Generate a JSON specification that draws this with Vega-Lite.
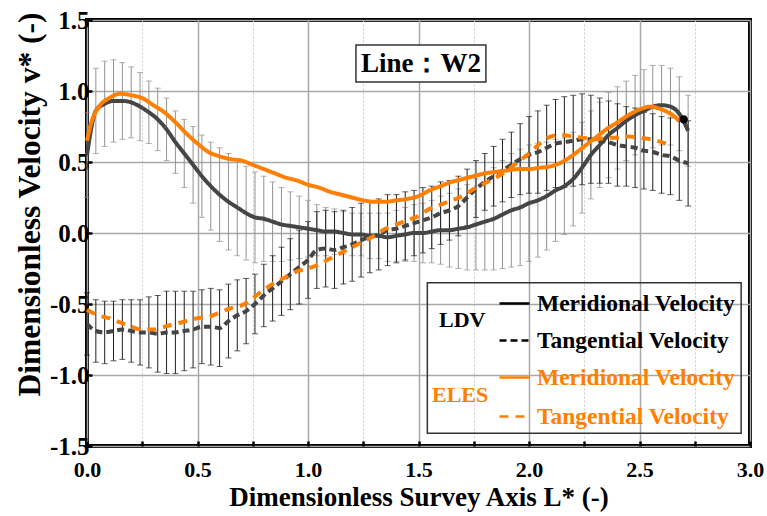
{
"$schema":"https://vega.github.io/schema/vega-lite/v6.json",
"width":663,"height":426,
"autosize":{"type":"none"},
"padding":{"left":87,"top":20,"right":17,"bottom":70},
"background":"white",
"config":{"view":{"stroke":"black","strokeWidth":4},"font":"Liberation Serif"},
"datasets":{
"ldv":[
{"x":0.00,"comp":"Meridional Velocity","y":0.55,"e":0.30},{"x":0.04,"comp":"Meridional Velocity","y":0.86,"e":0.30},{"x":0.08,"comp":"Meridional Velocity","y":0.91,"e":0.30},{"x":0.12,"comp":"Meridional Velocity","y":0.93,"e":0.29},{"x":0.16,"comp":"Meridional Velocity","y":0.93,"e":0.27},{"x":0.20,"comp":"Meridional Velocity","y":0.92,"e":0.25},{"x":0.24,"comp":"Meridional Velocity","y":0.89,"e":0.24},{"x":0.28,"comp":"Meridional Velocity","y":0.85,"e":0.22},{"x":0.32,"comp":"Meridional Velocity","y":0.80,"e":0.22},{"x":0.36,"comp":"Meridional Velocity","y":0.73,"e":0.22},{"x":0.40,"comp":"Meridional Velocity","y":0.64,"e":0.22},{"x":0.44,"comp":"Meridional Velocity","y":0.56,"e":0.24},{"x":0.48,"comp":"Meridional Velocity","y":0.48,"e":0.27},{"x":0.52,"comp":"Meridional Velocity","y":0.40,"e":0.29},{"x":0.56,"comp":"Meridional Velocity","y":0.33,"e":0.31},{"x":0.60,"comp":"Meridional Velocity","y":0.27,"e":0.33},{"x":0.64,"comp":"Meridional Velocity","y":0.22,"e":0.34},{"x":0.68,"comp":"Meridional Velocity","y":0.18,"e":0.34},{"x":0.72,"comp":"Meridional Velocity","y":0.14,"e":0.33},{"x":0.76,"comp":"Meridional Velocity","y":0.11,"e":0.32},{"x":0.80,"comp":"Meridional Velocity","y":0.10,"e":0.30},{"x":0.84,"comp":"Meridional Velocity","y":0.08,"e":0.28},{"x":0.88,"comp":"Meridional Velocity","y":0.06,"e":0.26},{"x":0.92,"comp":"Meridional Velocity","y":0.05,"e":0.24},{"x":0.96,"comp":"Meridional Velocity","y":0.04,"e":0.22},{"x":1.00,"comp":"Meridional Velocity","y":0.03,"e":0.20},{"x":1.04,"comp":"Meridional Velocity","y":0.02,"e":0.18},{"x":1.08,"comp":"Meridional Velocity","y":0.01,"e":0.17},{"x":1.12,"comp":"Meridional Velocity","y":0.01,"e":0.16},{"x":1.16,"comp":"Meridional Velocity","y":0.00,"e":0.15},{"x":1.20,"comp":"Meridional Velocity","y":-0.01,"e":0.15},{"x":1.24,"comp":"Meridional Velocity","y":-0.01,"e":0.15},{"x":1.28,"comp":"Meridional Velocity","y":-0.02,"e":0.16},{"x":1.32,"comp":"Meridional Velocity","y":-0.02,"e":0.16},{"x":1.36,"comp":"Meridional Velocity","y":-0.03,"e":0.17},{"x":1.40,"comp":"Meridional Velocity","y":-0.02,"e":0.18},{"x":1.44,"comp":"Meridional Velocity","y":-0.01,"e":0.19},{"x":1.48,"comp":"Meridional Velocity","y":0.00,"e":0.20},{"x":1.52,"comp":"Meridional Velocity","y":0.00,"e":0.21},{"x":1.56,"comp":"Meridional Velocity","y":0.01,"e":0.22},{"x":1.60,"comp":"Meridional Velocity","y":0.02,"e":0.24},{"x":1.64,"comp":"Meridional Velocity","y":0.02,"e":0.26},{"x":1.68,"comp":"Meridional Velocity","y":0.03,"e":0.28},{"x":1.72,"comp":"Meridional Velocity","y":0.04,"e":0.30},{"x":1.76,"comp":"Meridional Velocity","y":0.06,"e":0.32},{"x":1.80,"comp":"Meridional Velocity","y":0.08,"e":0.34},{"x":1.84,"comp":"Meridional Velocity","y":0.10,"e":0.36},{"x":1.88,"comp":"Meridional Velocity","y":0.13,"e":0.38},{"x":1.92,"comp":"Meridional Velocity","y":0.16,"e":0.40},{"x":1.96,"comp":"Meridional Velocity","y":0.18,"e":0.41},{"x":2.00,"comp":"Meridional Velocity","y":0.21,"e":0.41},{"x":2.04,"comp":"Meridional Velocity","y":0.23,"e":0.40},{"x":2.08,"comp":"Meridional Velocity","y":0.26,"e":0.38},{"x":2.12,"comp":"Meridional Velocity","y":0.30,"e":0.36},{"x":2.16,"comp":"Meridional Velocity","y":0.33,"e":0.34},{"x":2.20,"comp":"Meridional Velocity","y":0.38,"e":0.33},{"x":2.24,"comp":"Meridional Velocity","y":0.46,"e":0.32},{"x":2.28,"comp":"Meridional Velocity","y":0.55,"e":0.31},{"x":2.32,"comp":"Meridional Velocity","y":0.62,"e":0.30},{"x":2.36,"comp":"Meridional Velocity","y":0.69,"e":0.30},{"x":2.40,"comp":"Meridional Velocity","y":0.74,"e":0.29},{"x":2.44,"comp":"Meridional Velocity","y":0.79,"e":0.28},{"x":2.48,"comp":"Meridional Velocity","y":0.83,"e":0.28},{"x":2.52,"comp":"Meridional Velocity","y":0.86,"e":0.29},{"x":2.56,"comp":"Meridional Velocity","y":0.89,"e":0.29},{"x":2.60,"comp":"Meridional Velocity","y":0.90,"e":0.28},{"x":2.64,"comp":"Meridional Velocity","y":0.89,"e":0.27},{"x":2.68,"comp":"Meridional Velocity","y":0.84,"e":0.26},{"x":2.72,"comp":"Meridional Velocity","y":0.72,"e":0.25},
{"x":0.00,"comp":"Tangential Velocity","y":-0.64,"e":0.22},{"x":0.04,"comp":"Tangential Velocity","y":-0.69,"e":0.22},{"x":0.08,"comp":"Tangential Velocity","y":-0.70,"e":0.22},{"x":0.12,"comp":"Tangential Velocity","y":-0.69,"e":0.21},{"x":0.16,"comp":"Tangential Velocity","y":-0.68,"e":0.21},{"x":0.20,"comp":"Tangential Velocity","y":-0.69,"e":0.22},{"x":0.24,"comp":"Tangential Velocity","y":-0.70,"e":0.23},{"x":0.28,"comp":"Tangential Velocity","y":-0.70,"e":0.25},{"x":0.32,"comp":"Tangential Velocity","y":-0.71,"e":0.27},{"x":0.36,"comp":"Tangential Velocity","y":-0.70,"e":0.29},{"x":0.40,"comp":"Tangential Velocity","y":-0.70,"e":0.29},{"x":0.44,"comp":"Tangential Velocity","y":-0.69,"e":0.28},{"x":0.48,"comp":"Tangential Velocity","y":-0.68,"e":0.27},{"x":0.52,"comp":"Tangential Velocity","y":-0.66,"e":0.26},{"x":0.56,"comp":"Tangential Velocity","y":-0.66,"e":0.27},{"x":0.60,"comp":"Tangential Velocity","y":-0.67,"e":0.27},{"x":0.64,"comp":"Tangential Velocity","y":-0.62,"e":0.26},{"x":0.68,"comp":"Tangential Velocity","y":-0.58,"e":0.25},{"x":0.72,"comp":"Tangential Velocity","y":-0.55,"e":0.23},{"x":0.76,"comp":"Tangential Velocity","y":-0.50,"e":0.21},{"x":0.80,"comp":"Tangential Velocity","y":-0.44,"e":0.22},{"x":0.84,"comp":"Tangential Velocity","y":-0.39,"e":0.23},{"x":0.88,"comp":"Tangential Velocity","y":-0.34,"e":0.24},{"x":0.92,"comp":"Tangential Velocity","y":-0.29,"e":0.25},{"x":0.96,"comp":"Tangential Velocity","y":-0.24,"e":0.26},{"x":1.00,"comp":"Tangential Velocity","y":-0.19,"e":0.27},{"x":1.04,"comp":"Tangential Velocity","y":-0.12,"e":0.27},{"x":1.08,"comp":"Tangential Velocity","y":-0.11,"e":0.27},{"x":1.12,"comp":"Tangential Velocity","y":-0.12,"e":0.27},{"x":1.16,"comp":"Tangential Velocity","y":-0.10,"e":0.26},{"x":1.20,"comp":"Tangential Velocity","y":-0.08,"e":0.26},{"x":1.24,"comp":"Tangential Velocity","y":-0.05,"e":0.26},{"x":1.28,"comp":"Tangential Velocity","y":-0.03,"e":0.25},{"x":1.32,"comp":"Tangential Velocity","y":-0.01,"e":0.25},{"x":1.36,"comp":"Tangential Velocity","y":0.02,"e":0.25},{"x":1.40,"comp":"Tangential Velocity","y":0.03,"e":0.24},{"x":1.44,"comp":"Tangential Velocity","y":0.05,"e":0.24},{"x":1.48,"comp":"Tangential Velocity","y":0.07,"e":0.23},{"x":1.52,"comp":"Tangential Velocity","y":0.09,"e":0.23},{"x":1.56,"comp":"Tangential Velocity","y":0.11,"e":0.22},{"x":1.60,"comp":"Tangential Velocity","y":0.14,"e":0.22},{"x":1.64,"comp":"Tangential Velocity","y":0.16,"e":0.21},{"x":1.68,"comp":"Tangential Velocity","y":0.19,"e":0.21},{"x":1.72,"comp":"Tangential Velocity","y":0.25,"e":0.20},{"x":1.76,"comp":"Tangential Velocity","y":0.31,"e":0.20},{"x":1.80,"comp":"Tangential Velocity","y":0.36,"e":0.20},{"x":1.84,"comp":"Tangential Velocity","y":0.40,"e":0.21},{"x":1.88,"comp":"Tangential Velocity","y":0.44,"e":0.22},{"x":1.92,"comp":"Tangential Velocity","y":0.48,"e":0.23},{"x":1.96,"comp":"Tangential Velocity","y":0.52,"e":0.25},{"x":2.00,"comp":"Tangential Velocity","y":0.55,"e":0.27},{"x":2.04,"comp":"Tangential Velocity","y":0.57,"e":0.29},{"x":2.08,"comp":"Tangential Velocity","y":0.60,"e":0.30},{"x":2.12,"comp":"Tangential Velocity","y":0.63,"e":0.31},{"x":2.16,"comp":"Tangential Velocity","y":0.64,"e":0.32},{"x":2.20,"comp":"Tangential Velocity","y":0.65,"e":0.32},{"x":2.24,"comp":"Tangential Velocity","y":0.66,"e":0.32},{"x":2.28,"comp":"Tangential Velocity","y":0.66,"e":0.31},{"x":2.32,"comp":"Tangential Velocity","y":0.65,"e":0.30},{"x":2.36,"comp":"Tangential Velocity","y":0.64,"e":0.29},{"x":2.40,"comp":"Tangential Velocity","y":0.62,"e":0.29},{"x":2.44,"comp":"Tangential Velocity","y":0.61,"e":0.28},{"x":2.48,"comp":"Tangential Velocity","y":0.60,"e":0.28},{"x":2.52,"comp":"Tangential Velocity","y":0.58,"e":0.27},{"x":2.56,"comp":"Tangential Velocity","y":0.57,"e":0.27},{"x":2.60,"comp":"Tangential Velocity","y":0.55,"e":0.27},{"x":2.64,"comp":"Tangential Velocity","y":0.54,"e":0.27},{"x":2.68,"comp":"Tangential Velocity","y":0.51,"e":0.28},{"x":2.72,"comp":"Tangential Velocity","y":0.49,"e":0.30}
],
"eles":[
{"x":0.00,"comp":"Meridional Velocity","y":0.65},{"x":0.02,"comp":"Meridional Velocity","y":0.78},{"x":0.05,"comp":"Meridional Velocity","y":0.88},{"x":0.10,"comp":"Meridional Velocity","y":0.95},{"x":0.15,"comp":"Meridional Velocity","y":0.98},{"x":0.20,"comp":"Meridional Velocity","y":0.97},{"x":0.25,"comp":"Meridional Velocity","y":0.95},{"x":0.30,"comp":"Meridional Velocity","y":0.90},{"x":0.35,"comp":"Meridional Velocity","y":0.85},{"x":0.40,"comp":"Meridional Velocity","y":0.78},{"x":0.45,"comp":"Meridional Velocity","y":0.70},{"x":0.50,"comp":"Meridional Velocity","y":0.63},{"x":0.55,"comp":"Meridional Velocity","y":0.57},{"x":0.60,"comp":"Meridional Velocity","y":0.54},{"x":0.65,"comp":"Meridional Velocity","y":0.52},{"x":0.70,"comp":"Meridional Velocity","y":0.51},{"x":0.75,"comp":"Meridional Velocity","y":0.48},{"x":0.80,"comp":"Meridional Velocity","y":0.45},{"x":0.85,"comp":"Meridional Velocity","y":0.42},{"x":0.90,"comp":"Meridional Velocity","y":0.39},{"x":0.95,"comp":"Meridional Velocity","y":0.37},{"x":1.00,"comp":"Meridional Velocity","y":0.34},{"x":1.05,"comp":"Meridional Velocity","y":0.32},{"x":1.10,"comp":"Meridional Velocity","y":0.29},{"x":1.15,"comp":"Meridional Velocity","y":0.27},{"x":1.20,"comp":"Meridional Velocity","y":0.25},{"x":1.25,"comp":"Meridional Velocity","y":0.23},{"x":1.30,"comp":"Meridional Velocity","y":0.22},{"x":1.35,"comp":"Meridional Velocity","y":0.22},{"x":1.40,"comp":"Meridional Velocity","y":0.23},{"x":1.45,"comp":"Meridional Velocity","y":0.24},{"x":1.50,"comp":"Meridional Velocity","y":0.26},{"x":1.55,"comp":"Meridional Velocity","y":0.30},{"x":1.60,"comp":"Meridional Velocity","y":0.33},{"x":1.65,"comp":"Meridional Velocity","y":0.36},{"x":1.70,"comp":"Meridional Velocity","y":0.38},{"x":1.75,"comp":"Meridional Velocity","y":0.40},{"x":1.80,"comp":"Meridional Velocity","y":0.42},{"x":1.85,"comp":"Meridional Velocity","y":0.43},{"x":1.90,"comp":"Meridional Velocity","y":0.44},{"x":1.95,"comp":"Meridional Velocity","y":0.45},{"x":2.00,"comp":"Meridional Velocity","y":0.45},{"x":2.05,"comp":"Meridional Velocity","y":0.46},{"x":2.10,"comp":"Meridional Velocity","y":0.47},{"x":2.15,"comp":"Meridional Velocity","y":0.50},{"x":2.20,"comp":"Meridional Velocity","y":0.55},{"x":2.25,"comp":"Meridional Velocity","y":0.61},{"x":2.30,"comp":"Meridional Velocity","y":0.67},{"x":2.35,"comp":"Meridional Velocity","y":0.73},{"x":2.40,"comp":"Meridional Velocity","y":0.78},{"x":2.45,"comp":"Meridional Velocity","y":0.83},{"x":2.50,"comp":"Meridional Velocity","y":0.87},{"x":2.55,"comp":"Meridional Velocity","y":0.89},{"x":2.60,"comp":"Meridional Velocity","y":0.87},{"x":2.65,"comp":"Meridional Velocity","y":0.83},{"x":2.68,"comp":"Meridional Velocity","y":0.79},
{"x":0.00,"comp":"Tangential Velocity","y":-0.54},{"x":0.05,"comp":"Tangential Velocity","y":-0.58},{"x":0.10,"comp":"Tangential Velocity","y":-0.60},{"x":0.15,"comp":"Tangential Velocity","y":-0.63},{"x":0.20,"comp":"Tangential Velocity","y":-0.66},{"x":0.25,"comp":"Tangential Velocity","y":-0.68},{"x":0.30,"comp":"Tangential Velocity","y":-0.68},{"x":0.35,"comp":"Tangential Velocity","y":-0.66},{"x":0.40,"comp":"Tangential Velocity","y":-0.64},{"x":0.45,"comp":"Tangential Velocity","y":-0.62},{"x":0.50,"comp":"Tangential Velocity","y":-0.60},{"x":0.55,"comp":"Tangential Velocity","y":-0.59},{"x":0.60,"comp":"Tangential Velocity","y":-0.56},{"x":0.65,"comp":"Tangential Velocity","y":-0.53},{"x":0.70,"comp":"Tangential Velocity","y":-0.51},{"x":0.75,"comp":"Tangential Velocity","y":-0.46},{"x":0.80,"comp":"Tangential Velocity","y":-0.40},{"x":0.85,"comp":"Tangential Velocity","y":-0.35},{"x":0.90,"comp":"Tangential Velocity","y":-0.31},{"x":0.95,"comp":"Tangential Velocity","y":-0.27},{"x":1.00,"comp":"Tangential Velocity","y":-0.25},{"x":1.05,"comp":"Tangential Velocity","y":-0.22},{"x":1.10,"comp":"Tangential Velocity","y":-0.18},{"x":1.15,"comp":"Tangential Velocity","y":-0.14},{"x":1.20,"comp":"Tangential Velocity","y":-0.10},{"x":1.25,"comp":"Tangential Velocity","y":-0.06},{"x":1.30,"comp":"Tangential Velocity","y":-0.02},{"x":1.35,"comp":"Tangential Velocity","y":0.03},{"x":1.40,"comp":"Tangential Velocity","y":0.06},{"x":1.45,"comp":"Tangential Velocity","y":0.09},{"x":1.50,"comp":"Tangential Velocity","y":0.12},{"x":1.55,"comp":"Tangential Velocity","y":0.17},{"x":1.60,"comp":"Tangential Velocity","y":0.20},{"x":1.65,"comp":"Tangential Velocity","y":0.23},{"x":1.70,"comp":"Tangential Velocity","y":0.26},{"x":1.75,"comp":"Tangential Velocity","y":0.31},{"x":1.80,"comp":"Tangential Velocity","y":0.35},{"x":1.85,"comp":"Tangential Velocity","y":0.39},{"x":1.90,"comp":"Tangential Velocity","y":0.44},{"x":1.95,"comp":"Tangential Velocity","y":0.50},{"x":2.00,"comp":"Tangential Velocity","y":0.56},{"x":2.05,"comp":"Tangential Velocity","y":0.63},{"x":2.10,"comp":"Tangential Velocity","y":0.68},{"x":2.15,"comp":"Tangential Velocity","y":0.69},{"x":2.20,"comp":"Tangential Velocity","y":0.68},{"x":2.25,"comp":"Tangential Velocity","y":0.67},{"x":2.30,"comp":"Tangential Velocity","y":0.66},{"x":2.35,"comp":"Tangential Velocity","y":0.67},{"x":2.40,"comp":"Tangential Velocity","y":0.67},{"x":2.45,"comp":"Tangential Velocity","y":0.68},{"x":2.50,"comp":"Tangential Velocity","y":0.67},{"x":2.55,"comp":"Tangential Velocity","y":0.66},{"x":2.60,"comp":"Tangential Velocity","y":0.64},{"x":2.64,"comp":"Tangential Velocity","y":0.62}
],
"marker":[{"x":2.70,"y":0.80}]
},
"layer":[
{"encoding":{
"x":{"field":"x","type":"quantitative","scale":{"domain":[0,3],"nice":false,"zero":false},
"axis":{"title":"Dimensionless Survey Axis L* (-)","values":[0,0.25,0.5,0.75,1,1.25,1.5,1.75,2,2.25,2.5,2.75,3],
"labelExpr":"abs(datum.value*2-round(datum.value*2))<0.001 ? format(datum.value,'.1f') : ''",
"labelFlush":false,"labelOverlap":false,"labelFont":"Liberation Serif","labelFontSize":22,"labelFontWeight":"bold","labelColor":"black","labelPadding":18,
"titleFont":"Liberation Serif","titleFontSize":27,"titleFontWeight":"bold","titleColor":"black","titlePadding":4,
"domain":false,"ticks":true,"tickSize":-5,"tickWidth":2.5,"tickColor":"black",
"grid":true,
"gridColor":{"condition":{"test":"abs(datum.value*2-round(datum.value*2))<0.001","value":"#a8a8a8"},"value":"#cccccc"},
"gridDash":{"condition":{"test":"abs(datum.value*2-round(datum.value*2))<0.001","value":[1,0]},"value":[2,2]},
"gridWidth":{"condition":{"test":"abs(datum.value*2-round(datum.value*2))<0.001","value":1.5},"value":1}}},
"y":{"field":"y","type":"quantitative","scale":{"domain":[-1.5,1.5],"nice":false,"zero":false},
"axis":{"title":"Dimensionless Velocity v* (-)","values":[-1.5,-1.25,-1,-0.75,-0.5,-0.25,0,0.25,0.5,0.75,1,1.25,1.5],
"labelExpr":"abs(datum.value*2-round(datum.value*2))<0.001 ? (datum.value<-0.001?'-':'')+format(abs(datum.value),'.1f') : ''",
"labelFlush":false,"labelOverlap":false,"labelFont":"Liberation Serif","labelFontSize":25,"labelFontWeight":"bold","labelColor":"black","labelPadding":3,
"titleFont":"Liberation Serif","titleFontSize":31.5,"titleFontWeight":"bold","titleColor":"black","titlePadding":3,"titleY":184,
"domain":false,"ticks":true,"tickSize":-5,"tickWidth":2.5,"tickColor":"black",
"grid":true,
"gridColor":{"condition":{"test":"abs(datum.value*2-round(datum.value*2))<0.001","value":"#a8a8a8"},"value":"#cccccc"},
"gridDash":{"condition":{"test":"abs(datum.value*2-round(datum.value*2))<0.001","value":[1,0]},"value":[2,2]},
"gridWidth":{"condition":{"test":"abs(datum.value*2-round(datum.value*2))<0.001","value":1.5},"value":1}}}
},
"layer":[
{"data":{"name":"ldv"},"transform":[{"filter":"datum.comp == 'Meridional Velocity'"}],
 "mark":{"type":"errorbar","ticks":{"size":6,"color":"#929292","thickness":1},"rule":{"color":"#929292","strokeWidth":1}},
 "encoding":{"yError":{"field":"e"}}},
{"data":{"name":"ldv"},"transform":[{"filter":"datum.comp == 'Tangential Velocity'"}],
 "mark":{"type":"errorbar","ticks":{"size":6,"color":"#1e1e1e","thickness":1},"rule":{"color":"#1e1e1e","strokeWidth":1}},
 "encoding":{"yError":{"field":"e"}}},
{"data":{"name":"ldv"},
 "mark":{"type":"line","color":"#454545","strokeWidth":4,"interpolate":"monotone"},
 "encoding":{"strokeDash":{"field":"comp","type":"nominal","scale":{"domain":["Meridional Velocity","Tangential Velocity"],"range":[[1,0],[7,4]]},
  "legend":{"title":"LDV","orient":"none","legendX":352,"legendY":267,"titleOrient":"left","titleAngle":0,"titleAnchor":"middle","titleBaseline":"middle",
  "titleFont":"Liberation Serif","titleFontSize":22,"titleFontWeight":"bold","titleColor":"black","titlePadding":12,
  "labelFont":"Liberation Serif","labelFontSize":23.5,"labelFontWeight":"bold","labelColor":"black","labelOffset":6,"labelLimit":400,
  "symbolType":"stroke","symbolSize":900,"symbolStrokeWidth":2.5,"symbolStrokeColor":"black","rowPadding":9,"padding":0}}}},
{"data":{"name":"eles"},
 "mark":{"type":"line","color":"#FF8000","strokeWidth":4,"interpolate":"monotone"},
 "encoding":{"strokeDash":{"field":"comp","type":"nominal","scale":{"domain":["Meridional Velocity","Tangential Velocity"],"range":[[1,0],[9,7]]},
  "legend":{"title":"ELES","orient":"none","legendX":345,"legendY":341,"titleOrient":"left","titleAngle":0,"titleAnchor":"middle","titleBaseline":"middle",
  "titleFont":"Liberation Serif","titleFontSize":22,"titleFontWeight":"bold","titleColor":"#FF8000","titlePadding":9,
  "labelFont":"Liberation Serif","labelFontSize":23.5,"labelFontWeight":"bold","labelColor":"#FF8000","labelOffset":6,"labelLimit":400,
  "symbolType":"stroke","symbolSize":900,"symbolStrokeWidth":2.5,"symbolStrokeColor":"#FF8000","rowPadding":11,"padding":0}}}},
{"data":{"name":"marker"},"mark":{"type":"point","filled":true,"color":"black","size":70,"opacity":1}}
],
"resolve":{"scale":{"strokeDash":"independent"},"legend":{"strokeDash":"independent"}}
},
{"data":{"values":[{"a":1}]},"mark":{"type":"rect","fill":"white","stroke":"#333","strokeWidth":1.5},
 "encoding":{"x":{"datum":1.217,"type":"quantitative"},"x2":{"datum":1.805},"y":{"datum":1.324,"type":"quantitative"},"y2":{"datum":1.063}}},
{"data":{"values":[{"a":1}]},"mark":{"type":"text","text":"Line：W2","font":"Liberation Serif","fontSize":27,"fontWeight":"bold","color":"black","align":"center","baseline":"middle"},
 "encoding":{"x":{"datum":1.511,"type":"quantitative"},"y":{"datum":1.19,"type":"quantitative"}}},
{"data":{"values":[{"a":1}]},"mark":{"type":"rect","fill":null,"stroke":"#333","strokeWidth":1.5},
 "encoding":{"x":{"datum":1.54,"type":"quantitative"},"x2":{"datum":2.96},"y":{"datum":-0.35,"type":"quantitative"},"y2":{"datum":-1.41}}}
],
"resolve":{"scale":{"strokeDash":"independent"},"legend":{"strokeDash":"independent"}}
}
